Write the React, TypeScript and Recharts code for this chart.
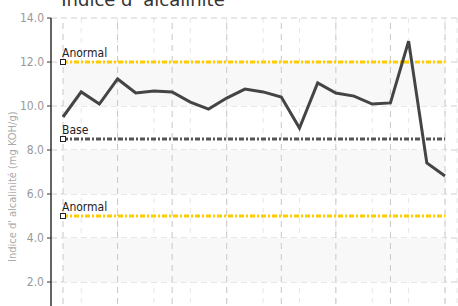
import React from 'react';
import {
  LineChart,
  Line,
  XAxis,
  YAxis,
  CartesianGrid,
  ReferenceLine,
  ReferenceArea,
  ReferenceDot,
} from 'recharts';

const samples = [
  'S1', 'S2', 'S3', 'S4', 'S5', 'S6', 'S7', 'S8', 'S9', 'S10', 'S11',
  'S12', 'S13', 'S14', 'S15', 'S16', 'S17', 'S18', 'S19', 'S20', 'S21', 'S22',
];
const alkalinity = [
  9.5, 10.64, 10.09, 11.23, 10.59, 10.68, 10.64, 10.18, 9.86, 10.36, 10.77,
  10.64, 10.41, 9.0, 11.05, 10.59, 10.45, 10.09, 10.14, 12.95, 7.41, 6.82,
];
const yTicks = [0, 2, 4, 6, 8, 10, 12, 14];
const bands = [
  [10, 12],
  [6, 8],
  [2, 4],
];
const limits = [
  { label: 'Anormal', value: 12, kind: 'alarm' },
  { label: 'Base', value: 8.5, kind: 'base' },
  { label: 'Anormal', value: 5, kind: 'alarm' },
];
const majorEvery = 3;

const data = samples.map((s, i) => ({ name: s, value: alkalinity[i] }));

const FONT = '"DejaVu Sans Condensed", "DejaVu Sans", sans-serif';

const LimitMarker = (props: any) => {
  const { cx, cy, text } = props;
  return (
    <g>
      <rect x={cx - 2.5} y={cy - 2.5} width={5} height={5} fill="#fff" stroke="#222" strokeWidth={1} />
      <text x={cx - 1} y={cy - 5} fontSize={12} fill="#222" fontFamily={FONT}>
        {text}
      </text>
    </g>
  );
};

const App: React.FC = () => {
  const first = samples[0];
  const last = samples[samples.length - 1];
  return (
    <div style={{ width: 458, height: 306, overflow: 'hidden', position: 'relative' }}>
      <style>{'body{margin:0}'}</style>
      <LineChart
        width={458}
        height={326}
        data={data}
        margin={{ top: 18, right: 1, left: 0, bottom: 0 }}
        style={{ fontFamily: FONT }}
      >
        {bands.map(([a, b]) => (
          <ReferenceArea key={a} y1={a} y2={b} fill="#f8f8f8" fillOpacity={1} stroke="none" ifOverflow="visible" />
        ))}
        <CartesianGrid vertical={true} horizontal={false} stroke="#e6e6e6" strokeDasharray="5 5" />
        <CartesianGrid vertical={false} horizontal={true} stroke="#cfcfcf" strokeDasharray="6 4" />
        {samples
          .filter((_, i) => i % majorEvery === 0)
          .map((s) => (
            <ReferenceLine key={s} x={s} stroke="#c8c8c8" strokeDasharray="6 5" />
          ))}
        <XAxis dataKey="name" hide padding={{ left: 12, right: 12 }} />
        <YAxis
          width={51}
          domain={[0, 14]}
          ticks={yTicks}
          tickFormatter={(v: number) => v.toFixed(1)}
          tick={{ fill: '#999', fontSize: 12, fontFamily: FONT }}
          tickSize={4}
          tickMargin={3}
          axisLine={{ stroke: '#333', strokeWidth: 1.5 }}
          tickLine={{ stroke: '#333' }}
          label={{
            value: "Indice d' alcalinité (mg KOH/g)",
            angle: -90,
            position: 'insideLeft',
            offset: 12,
            fill: '#aaa',
            fontSize: 11,
            fontFamily: FONT,
            dy: 90,
          }}
        />
        {limits.map((l, i) => (
          <ReferenceLine
            key={'l' + i}
            segment={[
              { x: first, y: l.value },
              { x: last, y: l.value },
            ]}
            stroke={l.kind === 'alarm' ? '#ffcc00' : '#555'}
            strokeWidth={3}
            strokeDasharray="5 2 2 2"
          />
        ))}
        <Line
          type="linear"
          dataKey="value"
          stroke="#444"
          strokeWidth={3}
          dot={false}
          activeDot={false}
          isAnimationActive={false}
        />
        {limits.map((l, i) => (
          <ReferenceDot
            key={'d' + i}
            x={first}
            y={l.value}
            r={3}
            shape={(p: any) => <LimitMarker {...p} text={l.label} />}
          />
        ))}
        <text x={143} y={6} textAnchor="middle" fontSize={18} fill="#333" fontFamily='"DejaVu Sans", sans-serif'>
          Indice d' alcalinité
        </text>
      </LineChart>
    </div>
  );
};

export default App;
